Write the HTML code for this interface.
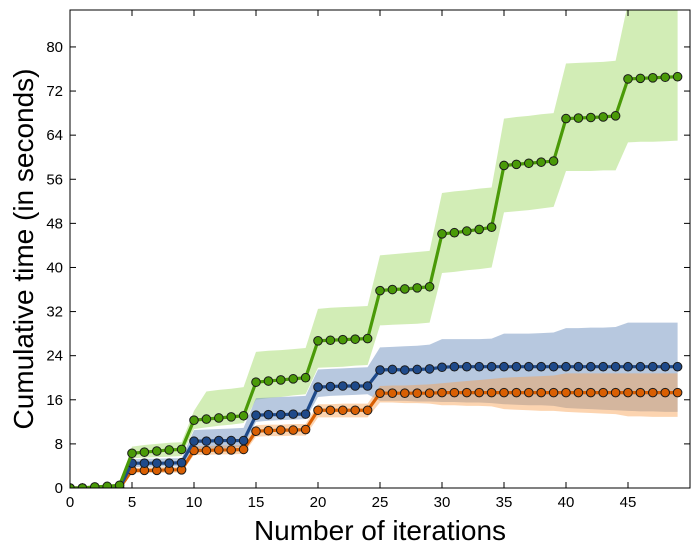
<!DOCTYPE html>
<html><head><meta charset="utf-8"><style>
body{margin:0;background:#fff}
svg{display:block;font-family:"Liberation Sans",sans-serif}
</style></head><body>
<svg id="c" width="699" height="555"></svg>
<script>
const iters=[...Array(50).keys()];
const greenMean=[0,0,0.2,0.3,0.5, 6.3,6.5,6.7,6.9,7.0, 12.3,12.5,12.7,12.9,13.1, 19.2,19.4,19.6,19.8,20.0, 26.7,26.8,26.9,27.0,27.1, 35.8,36.0,36.1,36.3,36.5, 46.1,46.3,46.6,46.9,47.3, 58.5,58.7,58.9,59.1,59.3, 67.0,67.1,67.2,67.3,67.5, 74.2,74.3,74.4,74.5,74.6];
const greenHi=[0,0,0.3,0.4,0.6, 7.5,7.8,8.0,8.2,8.3, 14,17.5,17.8,18.0,18.3, 24.7,24.9,25.0,25.2,25.4, 32.5,32.7,32.8,32.9,33.0, 42.2,42.4,42.6,42.8,43.0, 53.5,53.8,54.0,54.3,54.5, 67.0,67.3,67.5,67.8,68.0, 77.0,77.1,77.2,77.3,77.5, 88,88,88,88,88];
const greenLo=[0,0,0.1,0.2,0.4, 5.4,5.5,5.6,5.7,5.8, 10.7,11.0,11.3,11.5,11.8, 16.0,16.3,16.5,16.8,17.0, 21.8,21.9,22.0,22.2,22.3, 29.5,29.6,29.7,29.8,30.0, 39.0,39.2,39.5,39.7,40.0, 50.0,50.2,50.4,50.7,51.0, 57.5,57.5,57.5,57.6,57.6, 62.7,62.8,62.8,62.9,63.0];
const blueMean=[0,0,0,0,0, 4.5,4.5,4.5,4.5,4.6, 8.5,8.5,8.6,8.6,8.6, 13.2,13.3,13.3,13.4,13.4, 18.3,18.4,18.5,18.5,18.5, 21.4,21.5,21.4,21.5,21.6, 21.9,22.0,22.0,22.0,22.0, 22.0,22.0,22.0,22.0,22.0, 22.0,22.0,22.0,22.0,22.0, 22.0,22.0,22.0,22.0,22.0];
const blueHi=[0,0,0,0,0, 5.2,5.3,5.3,5.4,5.4, 10.5,10.6,10.7,10.8,10.9, 16.3,16.4,16.5,16.6,16.7, 21.5,21.6,21.7,21.8,21.9, 25.5,25.6,25.7,25.8,26.0, 27.0,27.0,27.0,27.0,27.1, 28.0,28.0,28.0,28.1,28.2, 29.0,29.0,29.1,29.1,29.2, 30.0,30.0,30.0,30.0,30.0];
const blueLo=[0,0,0,0,0, 3.8,3.8,3.9,3.9,3.9, 7.0,7.1,7.2,7.3,7.4, 12.0,12.2,12.3,12.4,12.5, 16.5,16.7,16.8,16.9,17.0, 15.8,15.8,15.8,15.7,15.7, 15.6,15.6,15.5,15.5,15.4, 15.2,15.1,15.0,15.0,14.9, 14.5,14.4,14.3,14.2,14.1, 14.0,13.9,13.9,13.8,13.8];
const orangeMean=[0,0,0,0,0, 3.2,3.2,3.2,3.3,3.3, 6.8,6.8,6.9,6.9,7.0, 10.3,10.4,10.5,10.5,10.6, 14.1,14.1,14.1,14.1,14.1, 17.2,17.2,17.2,17.2,17.2, 17.3,17.3,17.3,17.3,17.3, 17.3,17.3,17.3,17.3,17.3, 17.3,17.3,17.3,17.3,17.3, 17.3,17.3,17.3,17.3,17.3];
const orangeHi=[0,0,0,0,0, 3.7,3.7,3.8,3.8,3.8, 7.6,7.6,7.7,7.7,7.8, 11.4,11.5,11.5,11.6,11.6, 15.2,15.2,15.3,15.3,15.3, 18.5,18.6,18.6,18.7,18.8, 19.0,19.2,19.4,19.6,19.8, 20.0,20.1,20.2,20.3,20.4, 20.8,20.8,20.8,20.8,20.8, 20.8,20.8,20.8,20.8,20.8];
const orangeLo=[0,0,0,0,0, 2.7,2.7,2.7,2.8,2.8, 6.0,6.0,6.1,6.1,6.2, 9.3,9.4,9.4,9.5,9.5, 12.8,12.8,12.8,12.8,12.8, 15.5,15.5,15.4,15.4,15.3, 15.0,15.0,14.9,14.9,14.8, 14.3,14.2,14.1,14.0,14.0, 13.8,13.7,13.6,13.5,13.4, 13.0,13.0,12.9,12.9,12.9];
const xTicks=[0,5,10,15,20,25,30,35,40,45];
const yTicks=[0,8,16,24,32,40,48,56,64,72,80];

const L=70,R=690,T=10,B=488,XMAX=50,YMAX=86.7;
const xs=v=>L+(v/XMAX)*(R-L), ys=v=>B-(v/YMAX)*(B-T);
const NS="http://www.w3.org/2000/svg", svg=document.getElementById('c');
function mk(t,a,p){const e=document.createElementNS(NS,t);for(const k in a)e.setAttribute(k,a[k]);(p||svg).appendChild(e);return e;}
const defs=mk('defs',{});const cp=mk('clipPath',{id:'clip'},defs);mk('rect',{x:L,y:T,width:R-L,height:B-T},cp);
const g=mk('g',{'clip-path':'url(#clip)'});
function band(lo,hi,fill,op,name){
  let pts=iters.map(i=>xs(i)+','+ys(hi[i]));
  pts=pts.concat(iters.slice().reverse().map(i=>xs(i)+','+ys(lo[i])));
  const p=mk('polygon',{points:pts.join(' '),fill:fill,'fill-opacity':op},g);
  
  
}
function series(m,color,name){
  const pl=mk('polyline',{points:iters.map(i=>xs(i)+','+ys(m[i])).join(' '),fill:'none',stroke:color,'stroke-width':3.2},g);
  
  
  iters.forEach(i=>{
    const c=mk('circle',{cx:xs(i),cy:ys(m[i]),r:4.3,fill:color,stroke:'#1a1a1a','stroke-width':1},g);
    
    
  });
}
band(greenLo,greenHi,'#a5dc6e',0.5,'green-band');
band(blueLo,blueHi,'#7092c0',0.5,'blue-band');
band(orangeLo,orangeHi,'#f9a050',0.45,'orange-band');
series(orangeMean,'#d95f02','orange-series');
series(blueMean,'#1f4a8a','blue-series');
series(greenMean,'#4a9a08','green-series');
const fr=mk('rect',{x:L,y:T,width:R-L,height:B-T,fill:'none',stroke:'#000','stroke-width':1});


xTicks.forEach(v=>{
  mk('line',{x1:xs(v),x2:xs(v),y1:B,y2:B-6,stroke:'#000'});
  mk('line',{x1:xs(v),x2:xs(v),y1:T,y2:T+6,stroke:'#000'});
  const t=mk('text',{x:xs(v),y:B+19,'text-anchor':'middle','font-size':15});t.textContent=v;
  
  
});
yTicks.forEach(v=>{
  mk('line',{x1:L,x2:L+6,y1:ys(v),y2:ys(v),stroke:'#000'});
  mk('line',{x1:R,x2:R-6,y1:ys(v),y2:ys(v),stroke:'#000'});
  const t=mk('text',{x:L-7,y:ys(v)+5,'text-anchor':'end','font-size':15});t.textContent=v;
  
  
});
const xt=mk('text',{x:380,y:540,'text-anchor':'middle','font-size':28});xt.textContent='Number of iterations';


const yt=mk('text',{x:0,y:0,'text-anchor':'middle','font-size':28,transform:'translate(33,249) rotate(-90)'});yt.textContent='Cumulative time (in seconds)';


</script>
</body></html>
